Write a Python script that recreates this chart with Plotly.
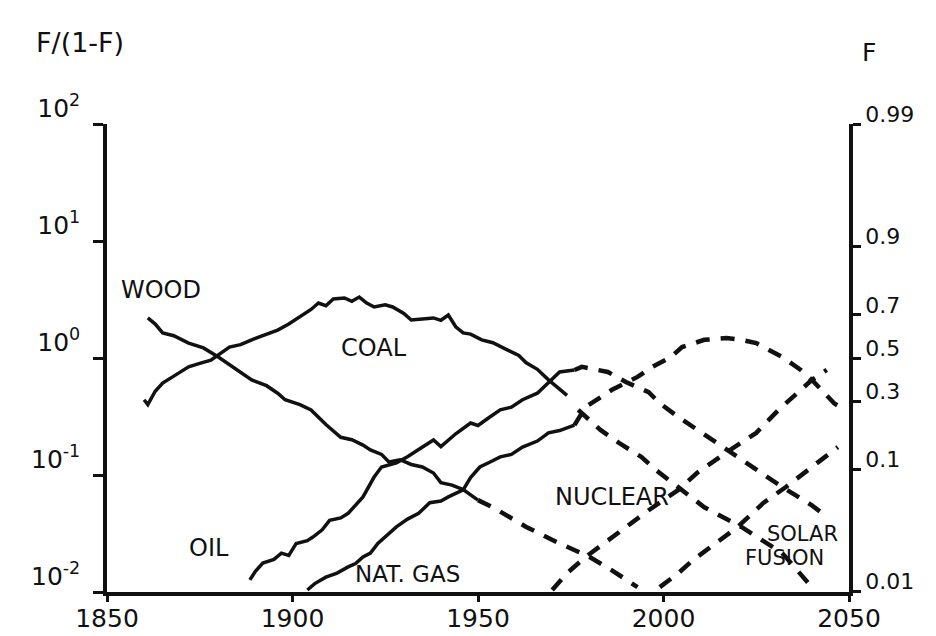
import plotly.graph_objects as go

# ---------------- data (F/(1-F) values) ----------------
wood_years = [1861, 1863, 1865, 1868, 1872, 1876, 1880, 1884, 1889, 1893, 1896, 1898, 1902, 1905, 1909, 1913, 1916, 1919, 1921, 1924, 1926, 1929, 1932, 1935, 1938, 1940, 1943, 1946, 1950]
wood_vals = [2.20, 1.95, 1.64, 1.55, 1.34, 1.22, 1.02, 0.84, 0.65, 0.58, 0.50, 0.44, 0.40, 0.36, 0.27, 0.21, 0.20, 0.18, 0.164, 0.150, 0.129, 0.135, 0.123, 0.117, 0.104, 0.086, 0.082, 0.075, 0.061]
wood_proj_years = [1950, 1954, 1963, 1972, 1980, 1986, 1993]
wood_proj_vals = [0.061, 0.053, 0.036, 0.026, 0.020, 0.0154, 0.011]

coal_years = [1860, 1861, 1863, 1865, 1868, 1872, 1875, 1878, 1883, 1886, 1889, 1893, 1896, 1899, 1902, 1905, 1907, 1909, 1911, 1914, 1916, 1918, 1920, 1922, 1925, 1927, 1930, 1932, 1935, 1938, 1940, 1942, 1944, 1946, 1948, 1951, 1954, 1958, 1961, 1963, 1966, 1969, 1971, 1974]
coal_vals = [0.44, 0.40, 0.52, 0.61, 0.70, 0.84, 0.90, 0.96, 1.24, 1.30, 1.43, 1.60, 1.73, 1.95, 2.24, 2.60, 2.95, 2.80, 3.20, 3.26, 3.05, 3.32, 2.95, 2.73, 2.85, 2.73, 2.40, 2.11, 2.15, 2.20, 2.10, 2.33, 1.85, 1.64, 1.60, 1.43, 1.35, 1.17, 1.05, 0.91, 0.80, 0.65, 0.58, 0.48]
coal_proj_years = [1977, 1983, 1988, 1994, 1998, 2011, 2021, 2032, 2040]
coal_proj_vals = [0.36, 0.243, 0.188, 0.143, 0.110, 0.053, 0.036, 0.0215, 0.011]

oil_years = [1888.5, 1890, 1892, 1895, 1897, 1899, 1901, 1904, 1905.5, 1908, 1910, 1913, 1915, 1917, 1919, 1922, 1924, 1928, 1931, 1934, 1938, 1940, 1944, 1948, 1950, 1953, 1956, 1959, 1962, 1966, 1969, 1972, 1976]
oil_vals = [0.0127, 0.0150, 0.0177, 0.0190, 0.0215, 0.0205, 0.026, 0.0275, 0.0295, 0.034, 0.041, 0.043, 0.047, 0.055, 0.065, 0.096, 0.117, 0.127, 0.143, 0.165, 0.199, 0.175, 0.225, 0.278, 0.265, 0.310, 0.36, 0.38, 0.44, 0.50, 0.61, 0.76, 0.79]
oil_proj_years = [1976, 1978, 1985, 1990, 1996, 1999, 2004, 2008, 2012, 2017, 2024, 2032, 2040, 2044]
oil_proj_vals = [0.79, 0.84, 0.76, 0.62, 0.51, 0.41, 0.313, 0.257, 0.211, 0.164, 0.117, 0.079, 0.055, 0.044]

gas_years = [1904, 1906, 1909, 1912, 1915, 1917, 1919, 1921, 1923, 1926, 1928, 1931, 1934, 1937, 1940, 1942, 1946, 1948, 1950.5, 1953, 1956, 1959, 1962, 1966, 1969, 1972, 1976]
gas_vals = [0.0104, 0.0118, 0.0134, 0.0145, 0.0164, 0.0175, 0.0199, 0.0215, 0.026, 0.032, 0.036, 0.042, 0.047, 0.058, 0.060, 0.065, 0.0745, 0.095, 0.117, 0.128, 0.143, 0.150, 0.173, 0.195, 0.229, 0.240, 0.267]
gas_proj_years = [1976, 1979, 1986, 1993, 1997, 2002, 2005, 2011, 2017, 2021, 2025, 2032, 2037, 2040, 2046, 2048]
gas_proj_vals = [0.267, 0.381, 0.532, 0.689, 0.84, 1.02, 1.24, 1.43, 1.48, 1.43, 1.34, 1.02, 0.79, 0.65, 0.41, 0.374]

nuclear_years = [1970, 1974, 1979, 1985, 1990, 1996, 2004, 2009, 2018, 2025, 2031, 2037, 2040, 2044]
nuclear_vals = [0.0104, 0.0145, 0.0199, 0.0278, 0.036, 0.050, 0.0745, 0.104, 0.164, 0.229, 0.36, 0.532, 0.65, 0.79]

solar_years = [1999, 2004, 2008, 2014, 2020, 2027, 2033, 2040, 2047]
solar_vals = [0.011, 0.0145, 0.0188, 0.026, 0.036, 0.058, 0.079, 0.117, 0.173]

x_ticks = [1850, 1900, 1950, 2000, 2050]
left_ticks = [0.01, 0.1, 1, 10, 100]
left_ticktext = ["10<sup>-2</sup>", "10<sup>-1</sup>", "10<sup>0</sup>", "10<sup>1</sup>", "10<sup>2</sup>"]
right_F = [0.01, 0.1, 0.3, 0.5, 0.7, 0.9, 0.99]
right_ticktext = ["0.01", "0.1", "0.3", "0.5", "0.7", "0.9", "0.99"]

# --------------------------------------------------------------------------
FONT = "DejaVu Sans"
INK = "#111111"
SOLID = dict(color=INK, width=3.5)
DASHED = dict(color=INK, width=4.5, dash="14px,11px")

fig = go.Figure()

def add(x, y, line):
    fig.add_trace(go.Scatter(x=x, y=y, mode="lines", line=line,
                             showlegend=False, hoverinfo="skip"))

add(wood_years, wood_vals, SOLID)
add(wood_proj_years, wood_proj_vals, DASHED)
add(coal_years, coal_vals, SOLID)
add(coal_proj_years, coal_proj_vals, DASHED)
add(oil_years, oil_vals, SOLID)
add(oil_proj_years, oil_proj_vals, DASHED)
add(gas_years, gas_vals, SOLID)
add(gas_proj_years, gas_proj_vals, DASHED)
add(nuclear_years, nuclear_vals, DASHED)
add(solar_years, solar_vals, DASHED)

# invisible trace to activate the right-hand F axis
fig.add_trace(go.Scatter(x=[1850], y=[1], yaxis="y2", mode="markers",
                         marker=dict(opacity=0), showlegend=False, hoverinfo="skip"))

labels = [
    ("WOOD", 1864.5, 0.58, 24),
    ("COAL", 1922, 0.085, 24),
    ("OIL", 1877.5, -1.62, 24),
    ("NAT. GAS", 1931, -1.85, 23),
    ("NUCLEAR", 1986, -1.19, 24),
    ("SOLAR", 2037.5, -1.50, 21),
    ("FUSION", 2032.5, -1.71, 21),
]
for txt, xx, yy, sz in labels:
    fig.add_annotation(x=xx, y=yy, xref="x", yref="y", text=txt, showarrow=False,
                       xanchor="center", yanchor="middle",
                       font=dict(family=FONT, size=sz, color=INK))

fig.add_annotation(x=-0.036, y=1.175, xref="paper", yref="paper", text="F/(1-F)",
                   showarrow=False, xanchor="center", yanchor="middle",
                   font=dict(family=FONT, size=27, color=INK))
fig.add_annotation(x=1.027, y=1.153, xref="paper", yref="paper", text="F",
                   showarrow=False, xanchor="center", yanchor="middle",
                   font=dict(family=FONT, size=25, color=INK))

right_vals = [f / (1 - f) for f in right_F]

fig.update_layout(
    width=936, height=636,
    margin=dict(l=107, r=87, t=124, b=44, autoexpand=False),
    paper_bgcolor="white", plot_bgcolor="white",
    font=dict(family=FONT, color=INK),
    xaxis=dict(range=[1850, 2050], showgrid=False, zeroline=False,
               showline=True, linecolor=INK, linewidth=3.5, automargin=False,
               tickmode="array", tickvals=x_ticks, ticks="outside",
               ticklen=6, tickwidth=3, tickcolor=INK, ticklabelstandoff=-5,
               tickfont=dict(family=FONT, size=25, color=INK)),
    yaxis=dict(type="log", range=[-2, 2], showgrid=False, zeroline=False,
               showline=True, linecolor=INK, linewidth=3.5, automargin=False,
               tickmode="array", tickvals=left_ticks, ticktext=left_ticktext,
               ticks="outside", ticklen=10, tickwidth=3, tickcolor=INK,
               ticklabelshift=-16, ticklabelstandoff=8,
               tickfont=dict(family=FONT, size=25, color=INK)),
    yaxis2=dict(type="log", range=[-2, 2], overlaying="y", side="right",
                showgrid=False, zeroline=False, automargin=False,
                showline=True, linecolor=INK, linewidth=3.5,
                tickmode="array", tickvals=right_vals, ticktext=right_ticktext,
                ticks="outside", ticklen=8, tickwidth=3, tickcolor=INK,
                ticklabelshift=-10,
                tickfont=dict(family=FONT, size=22, color=INK)),
)

# remove the page's default body margin so the 936x636 figure fills the window exactly
fig.write_html("out.html",
               config={"displayModeBar": False},
               post_script="document.body.style.margin='0px';document.body.style.overflow='hidden';")
